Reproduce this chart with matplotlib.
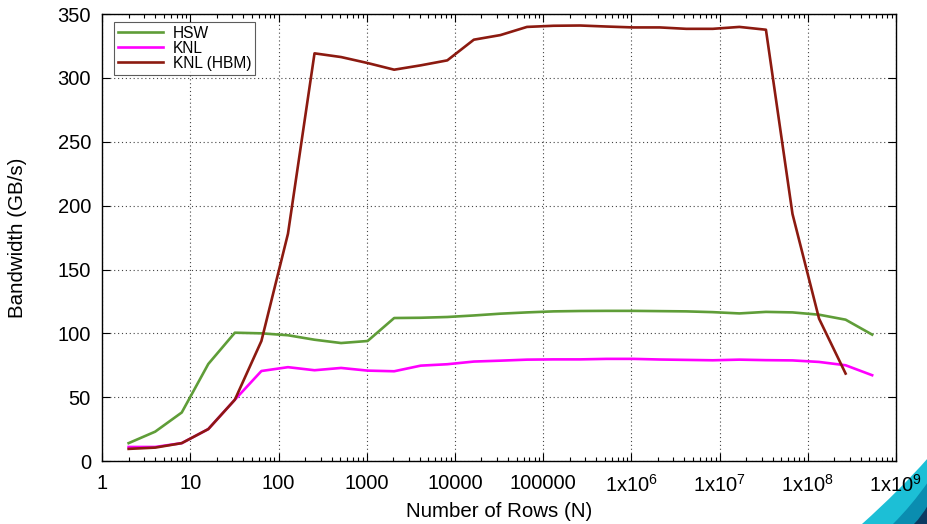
import matplotlib
matplotlib.use("Agg")
import matplotlib.pyplot as plt
import numpy as np
from matplotlib.patches import PathPatch
from matplotlib.path import Path
from matplotlib.ticker import FixedLocator, LogLocator, NullFormatter

plt.rcParams["font.family"] = ["Liberation Sans", "DejaVu Sans"]
plt.rcParams["mathtext.fontset"] = "custom"
plt.rcParams["mathtext.rm"] = "Liberation Sans"

# rows N = 2^1 .. 2^29
rows = [2 ** k for k in range(1, 30)]

hsw = [14, 23, 38, 76, 100.5, 100, 98.5, 95, 92.4, 94, 112, 112.2, 112.8, 114,
       115.4, 116.4, 117.2, 117.5, 117.6, 117.6, 117.4, 117.2, 116.6, 115.6,
       116.8, 116.4, 114.6, 110.7, 99]
knl = [11, 11, 14, 25, 48, 70.5, 73.5, 71.1, 72.9, 70.8, 70.3, 74.7, 75.8, 77.9,
       78.6, 79.4, 79.6, 79.6, 80, 80, 79.5, 79.2, 78.9, 79.4, 79, 78.8, 77.6,
       75, 67.2]
knl_hbm = [9.5, 10.5, 14, 25, 48, 94, 178, 319.3, 316.4, 311.7, 306.5, 309.9,
           313.8, 330, 333.6, 340, 340.9, 341.1, 340.3, 339.6, 339.6, 338.5,
           338.5, 340, 337.8, 193.5, 111.5, 68.5]

series = [("HSW", hsw, "#5f9d38"), ("KNL", knl, "#ff00ff"),
          ("KNL (HBM)", knl_hbm, "#8c1a10")]

x_ticks = [10 ** k for k in range(10)]
x_labels = ["1", "10", "100", "1000", "10000", "100000"] + [
    r"1x10$^{\mathregular{%d}}$" % k for k in range(6, 10)]
y_ticks = list(range(0, 351, 50))

fig = plt.figure(figsize=(9.28, 5.24), dpi=100)
ax = fig.add_axes([0.110, 0.1202, 0.8555, 0.8528])

for name, vals, color in series:
    ax.plot(rows[:len(vals)], vals, color=color, lw=1.9, label=name)

ax.set_xscale("log")
ax.set_xlim(1, 1e9)
ax.set_ylim(0, 350)
ax.xaxis.set_major_locator(FixedLocator(x_ticks))
ax.set_xticklabels(x_labels)
ax.xaxis.set_minor_locator(LogLocator(base=10, subs=np.arange(2, 10), numticks=20))
ax.xaxis.set_minor_formatter(NullFormatter())
ax.set_yticks(y_ticks)

ax.tick_params(which="both", direction="in", top=True, right=True, labelsize=14.5)
ax.tick_params(axis="x", pad=9)
ax.tick_params(axis="y", pad=8)
ax.tick_params(which="major", length=6, width=0.8)
ax.tick_params(which="minor", length=3, width=0.8)
ax.grid(True, which="major", ls=(0, (1, 2.5)), color="#444444", lw=0.8)
for sp in ax.spines.values():
    sp.set_linewidth(1.0)

ax.set_xlabel("Number of Rows (N)", fontsize=14.8, va="center")
ax.xaxis.set_label_coords(0.5, -0.114)
ax.set_ylabel("Bandwidth (GB/s)", fontsize=14.8, va="center")
ax.yaxis.set_label_coords(-0.106, 0.5)

leg = ax.legend(loc="upper left", bbox_to_anchor=(0.015, 0.983), fontsize=11.2,
                frameon=True, fancybox=False, handlelength=2.9,
                labelspacing=0.0, borderpad=0.25, handletextpad=0.65,
                borderaxespad=0)
leg.get_frame().set_edgecolor("#333333")
leg.get_frame().set_linewidth(0.8)

# decorative corner swoosh
W, H = 928.0, 524.0
layers = [((862, 524), (900, 490), (928, 458), "#1cbfd6"),
          ((893, 524), (912, 505), (928, 482), "#0a8db0"),
          ((914, 524), (922, 516), (928, 505), "#0c3a62")]
for (x0, y0), (xc, yc), (x1, y1), col in layers:
    verts = [(x0 / W, 1 - y0 / H), (xc / W, 1 - yc / H), (x1 / W, 1 - y1 / H),
             (1, 0), (x0 / W, 1 - y0 / H)]
    codes = [Path.MOVETO, Path.CURVE3, Path.CURVE3, Path.LINETO, Path.CLOSEPOLY]
    fig.patches.append(PathPatch(Path(verts, codes), transform=fig.transFigure,
                                 facecolor=col, edgecolor="none", zorder=-1))

fig.savefig("out.png", dpi=100)
